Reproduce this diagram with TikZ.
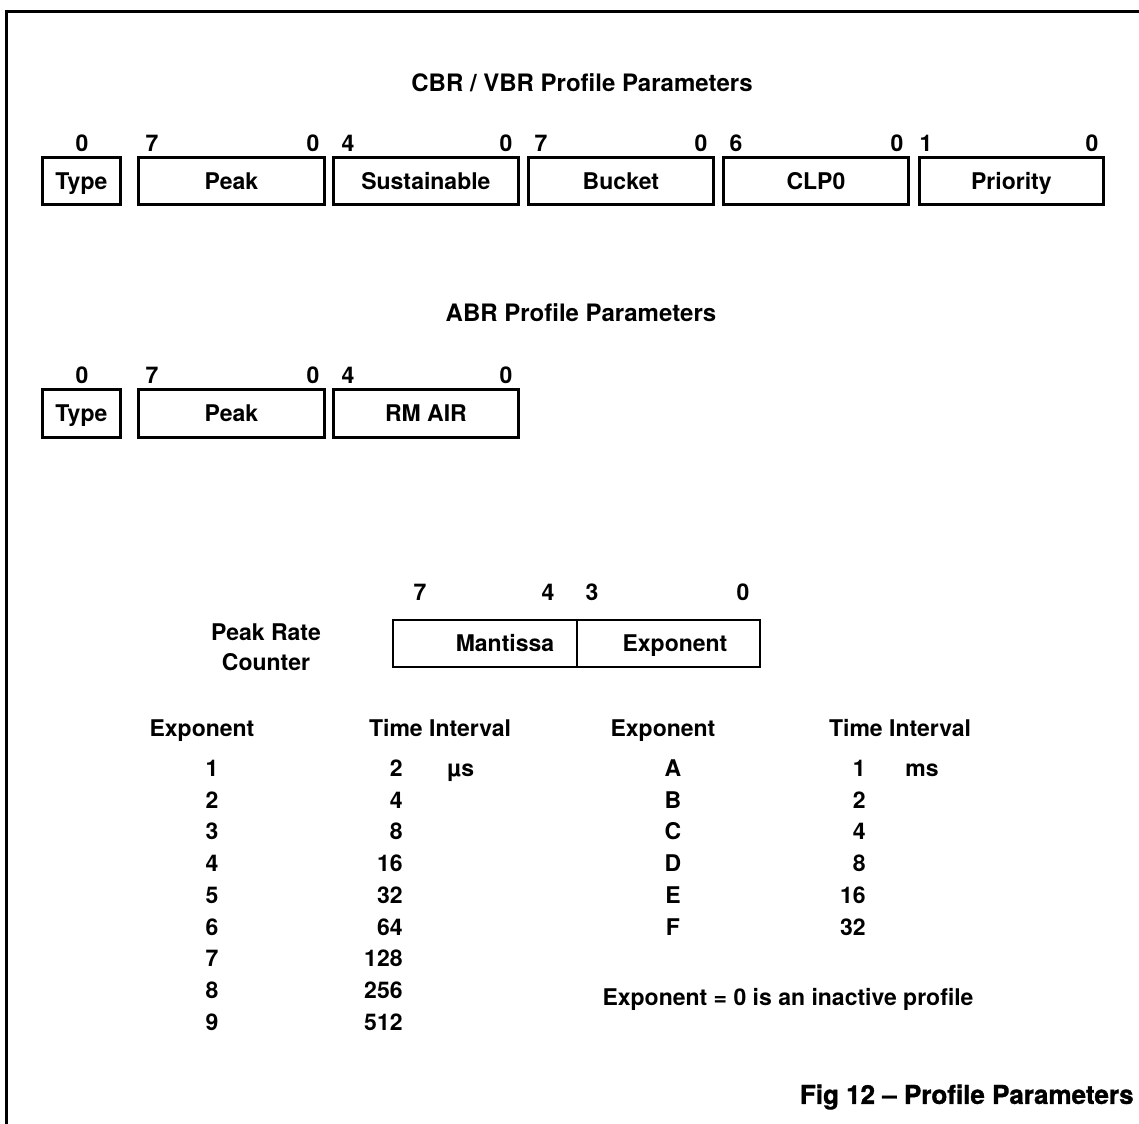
\documentclass[tikz,border=0pt]{standalone}
\usepackage{fontspec}
\setmainfont{TeX Gyre Heros}
\newfontfamily\capfont{TeX Gyre Heros}[BoldFeatures={FakeBold=1.2}]
\begin{document}
\begin{tikzpicture}[x=0.5pt,y=-0.5pt,
  font=\bfseries\fontsize{11.5}{13}\selectfont,
  txt/.style={inner sep=0pt, text height=8.3pt, text depth=0pt},
  fieldbox/.style={draw, line width=1.4pt, inner sep=0pt, anchor=north west,
    text height=8.3pt, text depth=0pt},
  bitno/.style={txt, anchor=center},
  cell/.style={txt, anchor=center},
  num/.style={txt, anchor=east},
  unit/.style={txt, anchor=west},
  heading/.style={inner sep=0pt, text height=8.7pt, text depth=0pt, anchor=center,
    font=\bfseries\fontsize{12}{14}\selectfont},
  caption/.style={inner sep=0pt, anchor=east,
    font=\capfont\bfseries\fontsize{13}{15}\selectfont}]
\useasboundingbox (0,0) rectangle (1139,1123);

% page frame (left and top edges)
\draw[line width=1.5pt] (6,1130) |- (1145,12);

% a field box: name, left x, right x, top y, bottom y, label
\newcommand\fieldbox[6]{%
  \node[fieldbox, minimum width={(#3-#2)*0.5pt}, minimum height={(#5-#4)*0.5pt}]
    (#1) at (#2,#4) {#6};}

% ---- CBR / VBR profile ----
\node[heading] (cbrtitle) at (582,83) {CBR / VBR Profile Parameters};
\fieldbox{ctype}{41}{119}{156}{203}{Type}
\fieldbox{cpeak}{137}{323}{156}{203}{Peak}
\fieldbox{csus}{332}{517}{156}{203}{Sustainable}
\fieldbox{cbuck}{527}{712}{156}{203}{Bucket}
\fieldbox{cclp}{722}{907}{156}{203}{CLP0}
\fieldbox{cprio}{918}{1102}{156}{203}{Priority}
\foreach \x/\b [count=\i] in {82/0,152/7,313/0,348/4,506/0,541/7,701/0,736/6,897/0,926/1,1092/0}
  \node[bitno] (cbit\i) at (\x,143) {\b};

% ---- ABR profile ----
\node[heading] (abrtitle) at (581,313) {ABR Profile Parameters};
\fieldbox{atype}{41}{119}{388}{436}{Type}
\fieldbox{apeak}{137}{323}{388}{436}{Peak}
\fieldbox{armair}{332}{517}{388}{436}{RM AIR}
\foreach \x/\b [count=\i] in {82/0,152/7,313/0,348/4,506/0}
  \node[bitno] (abit\i) at (\x,375) {\b};

% ---- peak rate counter ----
\node[inner sep=0pt, align=center] (prc) at (266,647) {Peak Rate\\[2pt]Counter};
\draw[line width=1.4pt] (393,620) rectangle (760,667);
\draw[line width=1.4pt] (577,620) -- (577,667);
\node[cell] (mant) at (505,643) {Mantissa};
\node[cell] (expo) at (675,643) {Exponent};
\foreach \x/\b [count=\i] in {420/7,548/4,592/3,743/0}
  \node[bitno] (pbit\i) at (\x,592) {\b};

% ---- exponent tables ----
\node[cell] (lhexp) at (202,728) {Exponent};
\node[cell] (lhtime) at (440,728) {Time Interval};
\foreach \e/\t [count=\i] in {1/2,2/4,3/8,4/16,5/32,6/64,7/128,8/256,9/512}{
  \node[cell] (le\i) at (212,{768+31.75*(\i-1)}) {\e};
  \node[num] (lt\i) at (403,{768+31.75*(\i-1)}) {\t};
}
\node[unit] (lunit) at (447,768) {µs};

\node[cell] (rhexp) at (663,728) {Exponent};
\node[cell] (rhtime) at (900,728) {Time Interval};
\foreach \e/\t [count=\i] in {A/1,B/2,C/4,D/8,E/16,F/32}{
  \node[cell] (re\i) at (673,{768+31.75*(\i-1)}) {\e};
  \node[num] (rt\i) at (866,{768+31.75*(\i-1)}) {\t};
}
\node[unit] (runit) at (905,768) {ms};

\node[cell] (note) at (788,997) {Exponent = 0 is an inactive profile};

\node[caption] (cap) at (1134,1097) {Fig 12 – Profile Parameters};
\end{tikzpicture}
\end{document}
